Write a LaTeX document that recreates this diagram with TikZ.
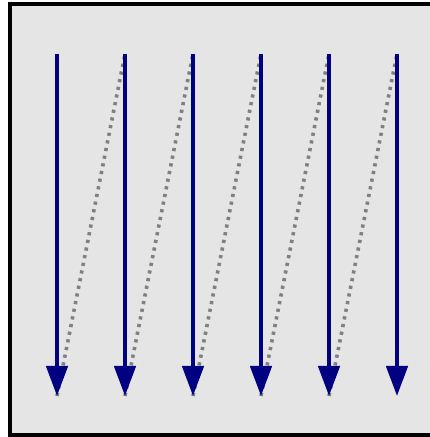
\documentclass[tikz,border=0pt]{standalone}
\usepackage{xcolor}
\usepackage{tikz}
\usetikzlibrary{arrows.meta,calc}
\definecolor{navyblue}{RGB}{0,0,128}
\definecolor{panelgray}{RGB}{229,229,229}

\begin{document}
\begin{tikzpicture}[
    x=0.025cm, y=-0.025cm,
    frame/.style={
        draw=black,
        line width=0.1cm,
        fill=panelgray
    },
    scan/.style={
        draw=navyblue,
        line width=0.1cm,
        -{Triangle[length=0.75cm,width=0.53cm]}
    },
    back/.style={
        draw=gray,
        line width=0.09cm,
        dash pattern=on 0.08cm off 0.115cm
    }
]
\useasboundingbox (0,0) rectangle (430,437);

% panel
\draw[frame] (10,4) rectangle (432,435);

% column end points
\foreach \i in {1,...,6} {
    \coordinate (top\i) at ({57+68*(\i-1)},54);
    \coordinate (bot\i) at ({57+68*(\i-1)},396);
}

% return lines
\foreach \i [evaluate=\i as \j using int(\i+1)] in {1,...,5} {
    \draw[back] (bot\i) -- (top\j);
}

% arrows
\foreach \i in {1,...,6} {
    \draw[scan] (top\i) -- (bot\i);
}

\end{tikzpicture}
\end{document}
